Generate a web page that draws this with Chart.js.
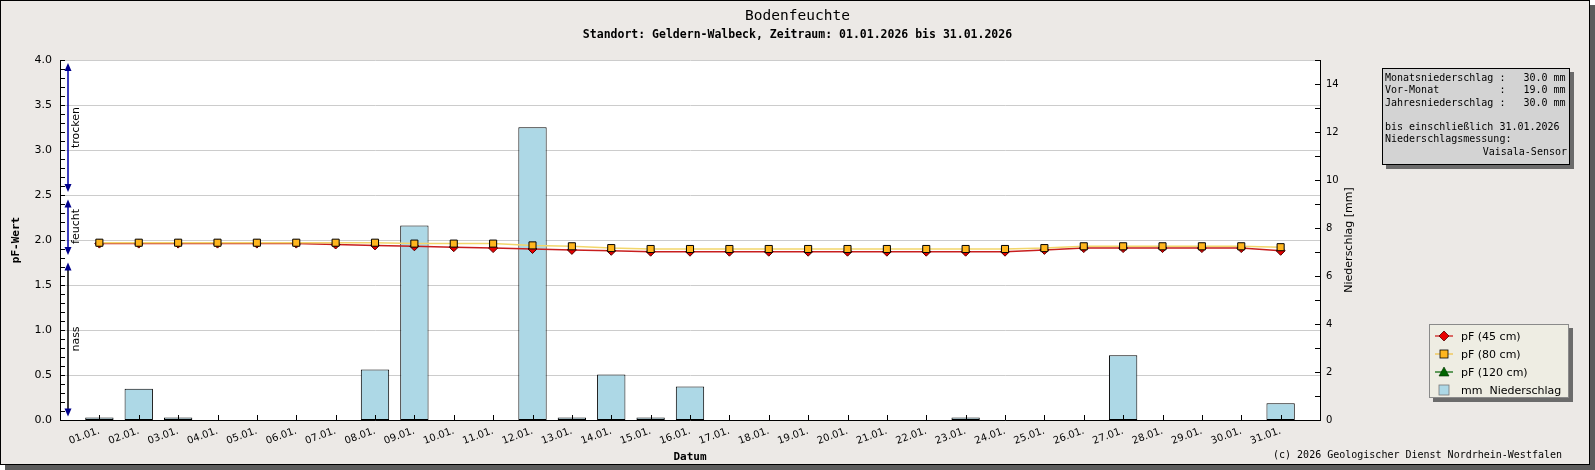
<!DOCTYPE html>
<html>
<head>
<meta charset="utf-8">
<script src="https://cdn.jsdelivr.net/npm/chart.js@4.4.1/dist/chart.umd.min.js"></script>
<style>
  body { margin: 0; width: 1595px; height: 470px; overflow: hidden; position: relative; background: #fff; }
  #frame { position: absolute; left: 0; top: 0; width: 1588px; height: 463px; border: 1px solid #000; background: #ECE9E6; box-shadow: 5px 5px 0 #5c5c5c; }
  canvas { position: absolute; left: 0; top: 0; }
  .txt { position: absolute; white-space: pre; color: #000; }
  #title { left: 0; width: 1595px; top: 7px; text-align: center; font: 14.5px/16px "DejaVu Sans Mono"; }
  #subtitle { left: 0; width: 1595px; top: 27px; text-align: center; font: bold 11.5px/14px "DejaVu Sans Mono"; }
  #info { position: absolute; left: 1382px; top: 68px; width: 182px; height: 91px; padding: 3px 2px 1px 2px; border: 1px solid #000; background: #D3D3D3; box-shadow: 4px 4px 0 #6b6b6b; font: 10px/12.3px "DejaVu Sans Mono"; white-space: pre; }
  #info .r { text-align: right; }
  #legend { position: absolute; left: 1429px; top: 324px; width: 138px; height: 72px; border: 1px solid #8a8a8a; background: #EEEDE3; box-shadow: 4px 4px 0 #6b6b6b; font: 11px "DejaVu Sans"; }
  #legend .item { position: absolute; left: 4px; height: 14px; display: flex; align-items: center; white-space: pre; }
  #legend svg { width: 20px; height: 14px; margin-right: 7px; }
  #copy { right: 33px; top: 449px; font: 10px/12px "DejaVu Sans Mono"; }
</style>
</head>
<body>
<div id="frame"></div>
<canvas id="chart" width="1595" height="470"></canvas>
<div class="txt" id="title">Bodenfeuchte</div>
<div class="txt" id="subtitle">Standort: Geldern-Walbeck, Zeitraum: 01.01.2026 bis 31.01.2026</div>
<div id="info"></div>
<div id="legend"></div>
<div class="txt" id="copy">(c) 2026 Geologischer Dienst Nordrhein-Westfalen</div>
<script>
// Tage im Januar
const days = ['01.01.', '02.01.', '03.01.', '04.01.', '05.01.', '06.01.', '07.01.', '08.01.',
  '09.01.', '10.01.', '11.01.', '12.01.', '13.01.', '14.01.', '15.01.', '16.01.', '17.01.',
  '18.01.', '19.01.', '20.01.', '21.01.', '22.01.', '23.01.', '24.01.', '25.01.', '26.01.',
  '27.01.', '28.01.', '29.01.', '30.01.', '31.01.'];

// Niederschlag [mm] pro Tag
const rain = [0.1, 1.3, 0.1, 0, 0, 0, 0, 2.1, 8.1, 0, 0, 12.2, 0.1, 1.9, 0.1, 1.4,
  0, 0, 0, 0, 0, 0, 0.1, 0, 0, 0, 2.7, 0, 0, 0, 0.7];

// pF-Werte je Tiefe
const pf45 = [1.96, 1.96, 1.96, 1.96, 1.96, 1.96, 1.95, 1.94, 1.93, 1.92, 1.91, 1.90, 1.89, 1.88,
  1.87, 1.87, 1.87, 1.87, 1.87, 1.87, 1.87, 1.87, 1.87, 1.87, 1.89, 1.91, 1.91, 1.91, 1.91, 1.91, 1.88];
const pf80 = [1.97, 1.97, 1.97, 1.97, 1.97, 1.97, 1.97, 1.97, 1.96, 1.96, 1.96, 1.94, 1.93, 1.91,
  1.90, 1.90, 1.90, 1.90, 1.90, 1.90, 1.90, 1.90, 1.90, 1.90, 1.91, 1.93, 1.93, 1.93, 1.93, 1.93, 1.92];
const pf120 = []; // keine Messwerte

// Achsenbeschriftungen
const pfTicks = [0, 0.5, 1.0, 1.5, 2.0, 2.5, 3.0, 3.5, 4.0];
const mmTicks = [0, 2, 4, 6, 8, 10, 12, 14];

// Feuchtebereiche links an der pF-Achse
const zoneNames = ['trocken', 'feucht', 'nass'];
const zoneFrom = [2.5, 1.8, 0];
const zoneTo = [4.0, 2.5, 1.8];

const seriesNames = ['pF (45 cm)', 'pF (80 cm)', 'pF (120 cm)', 'mm  Niederschlag'];

const infoLines = [
  'Monatsniederschlag :   30.0 mm',
  'Vor-Monat          :   19.0 mm',
  'Jahresniederschlag :   30.0 mm',
  ' ',
  'bis einschließlich 31.01.2026',
  'Niederschlagsmessung:'
];
const infoSensor = 'Vaisala-Sensor';

// Info-Kasten
const info = document.getElementById('info');
info.innerHTML = infoLines.map(l => `<div>${l}</div>`).join('') + `<div class="r">${infoSensor}</div>`;

// Legende
const legendIcons = [
  '<svg viewBox="0 0 20 14"><line x1="1" y1="7" x2="19" y2="7" stroke="#cc1010" stroke-width="1.2"/><polygon points="10,2 15,7 10,12 5,7" fill="#e80000" stroke="#500" stroke-width="0.8"/></svg>',
  '<svg viewBox="0 0 20 14"><line x1="1" y1="7" x2="19" y2="7" stroke="#f0c040" stroke-width="1.2"/><rect x="6" y="3" width="8" height="8" fill="#FFB61E" stroke="#000" stroke-width="0.8"/></svg>',
  '<svg viewBox="0 0 20 14"><line x1="1" y1="7" x2="19" y2="7" stroke="#006400" stroke-width="1.2"/><polygon points="10,2 15,11 5,11" fill="#006400" stroke="#003000" stroke-width="0.6"/></svg>',
  '<svg viewBox="0 0 20 14"><rect x="5" y="2" width="10" height="10" fill="#ADD8E6" stroke="#777" stroke-width="0.8"/></svg>'
];
document.getElementById('legend').innerHTML = seriesNames.map((n, i) =>
  `<div class="item" style="top:${4 + i * 18}px">${legendIcons[i]}<span>${n}</span></div>`).join('');

const toXY = arr => arr.map((v, i) => ({ x: i + 1, y: v }));

Chart.defaults.font.family = 'DejaVu Sans';
Chart.defaults.color = '#000';

// weisser Plotbereich
const plotBg = {
  id: 'plotBg',
  beforeDraw(chart) {
    const { ctx, chartArea: a } = chart;
    ctx.save();
    ctx.fillStyle = '#fff';
    ctx.fillRect(a.left, a.top, a.right - a.left, a.bottom - a.top);
    ctx.restore();
  }
};

// nach innen zeigende Teilstriche, Bereichspfeile, rechter Achsentitel
const extras = {
  id: 'extras',
  afterDatasetsDraw(chart) {
    const { ctx, chartArea: a, scales } = chart;
    const x = scales.x, y = scales.y, yR = scales.yR;
    ctx.save();
    ctx.strokeStyle = '#000';
    ctx.lineWidth = 1;
    ctx.beginPath();
    for (let i = 0; i <= 40; i++) {
      const py = Math.round(y.getPixelForValue(i / 10)) + 0.5;
      ctx.moveTo(a.left, py); ctx.lineTo(a.left + 5, py);
    }
    for (let i = 0; i <= 15; i++) {
      const py = Math.round(yR.getPixelForValue(i)) + 0.5;
      ctx.moveTo(a.right, py); ctx.lineTo(a.right - 5, py);
    }
    days.forEach((d, i) => {
      const px = Math.round(x.getPixelForValue(i + 1)) + 0.5;
      ctx.moveTo(px, a.bottom); ctx.lineTo(px, a.bottom - 5);
    });
    ctx.stroke();

    // Pfeile
    const ax = Math.round(x.getPixelForValue(0.2));
    const tx = x.getPixelForValue(0.42);
    zoneNames.forEach((name, i) => {
      const top = y.getPixelForValue(zoneTo[i]) + (i === 0 ? 3 : 4.5);
      const bot = y.getPixelForValue(zoneFrom[i]) - (i === 2 ? 3.5 : 3);
      ctx.fillStyle = i === 2 ? '#000' : '#0000aa';
      ctx.fillRect(ax - 0.75, top + 4, 1.5, bot - top - 8);
      ctx.fillStyle = '#00008b';
      ctx.beginPath();
      ctx.moveTo(ax, top); ctx.lineTo(ax - 3.5, top + 8); ctx.lineTo(ax + 3.5, top + 8); ctx.closePath();
      ctx.moveTo(ax, bot); ctx.lineTo(ax - 3.5, bot - 8); ctx.lineTo(ax + 3.5, bot - 8); ctx.closePath();
      ctx.fill();
      const ty = y.getPixelForValue((zoneFrom[i] + zoneTo[i]) / 2);
      ctx.save();
      ctx.translate(tx, ty);
      ctx.rotate(-Math.PI / 2);
      ctx.fillStyle = '#000';
      ctx.font = '11px "DejaVu Sans"';
      ctx.textAlign = 'center';
      ctx.textBaseline = 'middle';
      ctx.fillText(name, 0, 0);
      ctx.restore();
    });

    // rechter Achsentitel
    ctx.save();
    ctx.translate(yR.right - 11, (a.top + a.bottom) / 2);
    ctx.rotate(-Math.PI / 2);
    ctx.fillStyle = '#000';
    ctx.font = '11px "DejaVu Sans"';
    ctx.textAlign = 'center';
    ctx.textBaseline = 'middle';
    ctx.fillText('Niederschlag [mm]', 0, 0);
    ctx.restore();
    ctx.restore();
  }
};

new Chart(document.getElementById('chart'), {
  type: 'bar',
  data: {
    datasets: [{
      type: 'line',
      label: seriesNames[1],
      data: toXY(pf80),
      yAxisID: 'y',
      borderColor: '#F2D66B',
      borderWidth: 1.5,
      pointStyle: 'rect',
      pointRadius: 5,
      pointBackgroundColor: '#FFB61E',
      pointBorderColor: '#000',
      pointBorderWidth: 1,
      tension: 0,
      order: 1
    }, {
      type: 'line',
      label: seriesNames[0],
      data: toXY(pf45),
      yAxisID: 'y',
      borderColor: '#C81E1E',
      borderWidth: 1.5,
      pointStyle: 'rectRot',
      pointRadius: 4.5,
      pointBackgroundColor: '#E80000',
      pointBorderColor: '#550000',
      pointBorderWidth: 1,
      tension: 0,
      order: 2
    }, {
      type: 'line',
      label: seriesNames[2],
      data: toXY(pf120),
      yAxisID: 'y',
      borderColor: '#006400',
      pointStyle: 'triangle',
      pointBackgroundColor: '#006400',
      order: 3
    }, {
      type: 'bar',
      label: seriesNames[3],
      data: toXY(rain),
      yAxisID: 'yR',
      backgroundColor: '#ADD8E6',
      borderColor: '#000',
      borderWidth: 1,
      borderSkipped: false,
      categoryPercentage: 1,
      barPercentage: 0.72,
      order: 4
    }]
  },
  options: {
    responsive: false,
    animation: false,
    events: [],
    layout: { padding: { top: 60, right: 235, bottom: 0, left: 0 } },
    plugins: { legend: { display: false }, tooltip: { enabled: false } },
    scales: {
      x: {
        type: 'linear',
        offset: false,
        min: 0,
        max: days.length + 1,
        afterBuildTicks: s => { s.ticks = days.map((d, i) => ({ value: i + 1 })); },
        afterFit: s => { s.height = 50; },
        grid: { display: false, drawTicks: false, offset: false },
        border: { display: true, color: '#000', width: 1 },
        ticks: {
          autoSkip: false,
          minRotation: 20,
          maxRotation: 20,
          padding: 5,
          font: { size: 10 },
          callback: v => days[v - 1]
        },
        title: {
          display: true,
          text: 'Datum',
          font: { family: 'DejaVu Sans Mono', size: 11, weight: 'bold' },
          padding: { top: 0, bottom: 6 }
        }
      },
      y: {
        position: 'left',
        min: 0,
        max: 4,
        afterBuildTicks: s => { s.ticks = pfTicks.map(v => ({ value: v })); },
        afterFit: s => { s.width = 60; },
        grid: { color: '#cccccc', drawTicks: false },
        border: { display: true, color: '#000', width: 1 },
        ticks: { padding: 8, font: { size: 11 }, callback: v => v.toFixed(1) },
        title: {
          display: true,
          text: 'pF-Wert',
          font: { family: 'DejaVu Sans Mono', size: 11, weight: 'bold' },
          padding: { top: 10, bottom: 0 }
        }
      },
      yR: {
        position: 'right',
        min: 0,
        max: 15,
        afterBuildTicks: s => { s.ticks = mmTicks.map(v => ({ value: v })); },
        afterFit: s => { s.width = 40; },
        grid: { display: false, drawTicks: false },
        border: { display: true, color: '#000', width: 1 },
        ticks: { padding: 6, font: { size: 10 } }
      }
    }
  },
  plugins: [plotBg, extras]
});
</script>
</body>
</html>
